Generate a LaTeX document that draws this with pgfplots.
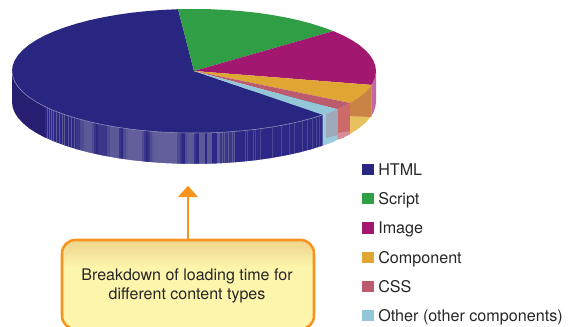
\documentclass[border=0pt]{standalone}
\usepackage{fontspec}
\setmainfont{TeX Gyre Heros}
\usepackage{pgfplots}
\pgfplotsset{compat=1.18}
\definecolor{cHtml}{RGB}{41,38,130}
\definecolor{cScript}{RGB}{48,158,68}
\definecolor{cImage}{RGB}{162,23,111}
\definecolor{cComp}{RGB}{223,166,52}
\definecolor{cCss}{RGB}{188,90,110}
\definecolor{cOther}{RGB}{147,198,214}
\definecolor{wDark}{RGB}{38,30,112}
\definecolor{wBase}{RGB}{45,40,133}
\definecolor{wLow}{RGB}{58,55,137}
\definecolor{wMid}{RGB}{78,76,144}
\definecolor{wHi}{RGB}{92,89,152}
\definecolor{wTop}{RGB}{98,95,156}
\definecolor{wFaint}{RGB}{74,72,146}
\definecolor{cOrange}{RGB}{247,148,29}
% one wall band, its overhang is hidden by the top face and the white mask
\newcommand{\strip}[3]{\addplot[fill=#3, draw=none] coordinates {(#1,100) (#2,100) (#2,172) (#1,172)} -- cycle;}
\newcommand{\wline}[1]{\addplot[color=wHi, line width=0.6pt] coordinates {(#1,100) (#1,172)};}
\newcommand{\fline}[1]{\addplot[color=wFaint, line width=0.5pt] coordinates {(#1,100) (#1,172)};}
\newcommand{\legitem}[3]{%
  \addplot[fill=#3, draw=none] coordinates {(362,#1-5.8) (373.7,#1-5.8) (373.7,#1+5.8) (362,#1+5.8)} -- cycle;
  \node[anchor=base west, inner sep=0pt, font=\fontsize{12.1pt}{14pt}\selectfont, text=black!85] at (axis cs:378,#1+5.9) {#2};}
\begin{document}
\begin{tikzpicture}
\useasboundingbox (0,0) rectangle (432pt,244.5pt);
\begin{axis}[
  at={(0,0)}, anchor=south west,
  scale only axis, width=432pt, height=244.5pt,
  xmin=0, xmax=576, ymin=0, ymax=326,
  y dir=reverse,
  hide axis,
  clip=true,
]
% side wall of the HTML slice
\addplot[fill=wDark, draw=none] coordinates {
  (12,71) (12,102) (12.7,107.4) (14.8,112.8) (18.2,118.0) (23.0,123.2) (29.0,128.2)
  (36.4,133.0) (44.9,137.6) (54.6,141.9) (65.3,145.8) (77.0,149.5) (89.6,152.8)
  (103.0,155.7) (117.1,158.2) (131.8,160.3) (146.9,161.9) (162.4,163.1) (178.1,163.8)
  (194,164) (209.9,163.8) (225.6,163.1) (241.1,161.9) (256.2,160.3) (270.9,158.2)
  (285.0,155.7) (298.4,152.8) (311.0,149.5) (322.7,145.8) (322.7,100) (100,71)} -- cycle;
\strip{45}{76}{wBase}
\wline{47}\wline{49}\wline{51}\wline{53}\wline{56}\wline{59}\wline{62}\wline{64}\wline{68}\wline{71}\wline{74}
\strip{76}{80}{wLow}
\strip{80}{84}{wMid}
\strip{84}{92}{wHi}
\strip{92}{94}{wMid}
\strip{94}{95.5}{wLow}
\strip{95.5}{98}{wBase}
\strip{98}{107}{wLow}
\strip{107}{110}{wMid}
\strip{110}{119}{wHi}
\strip{119}{121}{wLow}
\strip{121}{123}{wBase}
\strip{123}{126}{wMid}
\strip{126}{128}{wHi}
\strip{128}{142}{wTop}
\strip{142}{144}{wMid}
\strip{144}{146}{wLow}
\strip{146}{148}{wBase}
\strip{148}{150}{wLow}
\strip{150}{152}{wMid}
\strip{152}{154}{wHi}
\strip{154}{177}{wTop}
\strip{177}{180}{wMid}
\strip{180}{182}{wLow}
\strip{182}{185}{wBase}
\strip{185}{187}{wMid}
\strip{187}{194}{wHi}
\strip{194}{196}{wLow}
\strip{196}{199}{wBase}
\strip{199}{205}{wHi}
\strip{205}{207}{wBase}
\strip{207}{212}{wHi}
\strip{212}{217}{wBase}
\strip{217}{220}{wHi}
\strip{220}{235}{wLow}
\strip{235}{322.7}{wBase}
\wline{222}\wline{224}\wline{228}\wline{232}\wline{234}
\fline{245}\fline{247}\fline{253}\fline{255}
\fline{260}\fline{272}\fline{281}\fline{289}\fline{294}\fline{302}\fline{307}\fline{312}\fline{316}\fline{319}
% white below the wall
\addplot[fill=white, draw=none] coordinates {
  (44.9,137.6) (54.6,141.9) (65.3,145.8) (77.0,149.5) (89.6,152.8) (103.0,155.7)
  (117.1,158.2) (131.8,160.3) (146.9,161.9) (162.4,163.1) (178.1,163.8) (194,164)
  (209.9,163.8) (225.6,163.1) (241.1,161.9) (256.2,160.3) (270.9,158.2) (285.0,155.7)
  (298.4,152.8) (311.0,149.5) (322.7,145.8) (323.2,145.8) (323.2,175) (44.9,175)} -- cycle;
% translucent walls on the right
\addplot[fill={rgb,255:red,154;green,203;blue,220}, draw=none] coordinates {
  (322.7,114.8) (333.4,110.9) (337.5,109.3) (337.5,139.6) (333.4,141.9) (322.7,145.8)} -- cycle;
\addplot[fill={rgb,255:red,160;green,168;blue,188}, draw=none] coordinates {
  (326,113.6) (333.4,110.9) (337.5,109.3) (337.5,135) (326,138)} -- cycle;
\addplot[fill={rgb,255:red,204;green,106;blue,106}, draw=none] coordinates {
  (337.5,109.3) (343.1,106.6) (350,103) (350,134) (343.1,137.6) (337.5,139.6)} -- cycle;
\addplot[fill={rgb,255:red,216;green,138;blue,152}, draw=none] coordinates {
  (337.5,133) (350,131) (350,134) (343.1,137.6) (337.5,139.6)} -- cycle;
\addplot[fill={rgb,255:red,232;green,192;blue,96}, draw=none] coordinates {
  (350,103) (351.6,102.0) (359.0,97.2) (365.0,92.2) (369.8,87.0) (371.3,84.9)
  (371.3,115.9) (369.8,118.0) (365.0,123.2) (359.0,128.2) (351.6,133.0) (350,134)} -- cycle;
\addplot[fill={rgb,255:red,201;green,132;blue,69}, draw=none] coordinates {
  (350,103) (351.6,102.0) (359.0,97.2) (365.0,92.2) (369.8,87.0) (371.3,84.9)
  (371.3,117) (350,116)} -- cycle;
\addplot[fill={rgb,255:red,196;green,101;blue,165}, draw=none] coordinates {
  (371.3,84.9) (373.2,81.8) (375.3,76.4) (376,71) (376,102) (375.3,107.4) (373.2,112.8) (371.3,115.9)} -- cycle;
% top faces
\addplot[fill=cHtml, draw=none] coordinates {
  (194,71) (322.7,114.8) (311.0,118.5) (298.4,121.8) (285.0,124.7) (270.9,127.2) (256.2,129.3)
  (241.1,130.9) (225.6,132.1) (209.9,132.8) (194,133) (178.1,132.8) (162.4,132.1) (146.9,130.9)
  (131.8,129.3) (117.1,127.2) (103.0,124.7) (89.6,121.8) (77.0,118.5) (65.3,114.8) (54.6,110.9)
  (44.9,106.6) (36.4,102.0) (29.0,97.2) (23.0,92.2) (18.2,87.0) (14.8,81.8) (12.7,76.4) (12,71)
  (12.7,65.6) (14.8,60.2) (18.2,55.0) (23.0,49.8) (29.0,44.8) (36.4,40.0) (44.9,35.4) (54.6,31.1)
  (65.3,27.2) (77.0,23.5) (89.6,20.2) (103.0,17.3) (117.1,14.8) (131.8,12.7) (146.9,11.1)
  (162.4,9.9) (178.1,9.2)} -- cycle;
\addplot[fill=cScript, draw=none] coordinates {
  (194,71) (178.1,9.2) (194,9) (209.9,9.2) (225.6,9.9) (241.1,11.1) (256.2,12.7) (270.9,14.8)
  (285.0,17.3) (298.4,20.2) (311.0,23.5) (322.7,27.2) (333.4,31.1)} -- cycle;
\addplot[fill=cImage, draw=none] coordinates {
  (194,71) (333.4,31.1) (343.1,35.4) (351.6,40.0) (359.0,44.8) (365.0,49.8) (369.8,55.0)
  (373.2,60.2) (375.3,65.6) (376,71) (375.3,76.4) (373.2,81.8) (371.3,84.9)} -- cycle;
\addplot[fill=cComp, draw=none] coordinates {
  (194,71) (371.3,84.9) (369.8,87.0) (365.0,92.2) (359.0,97.2) (351.6,102.0) (350,103)} -- cycle;
\addplot[fill=cCss, draw=none] coordinates {
  (194,71) (350,103) (343.1,106.6) (337.5,109.3)} -- cycle;
\addplot[fill=cOther, draw=none] coordinates {
  (194,71) (337.5,109.3) (333.4,110.9) (322.7,114.8)} -- cycle;
% pale rim along the front of the HTML slice
\addplot[color={rgb,255:red,150;green,150;blue,190}, line width=0.4pt] coordinates {
  (12,71) (12.7,76.4) (14.8,81.8) (18.2,87.0) (23.0,92.2) (29.0,97.2) (36.4,102.0) (44.9,106.6)
  (54.6,110.9) (65.3,114.8) (77.0,118.5) (89.6,121.8) (103.0,124.7) (117.1,127.2) (131.8,129.3)
  (146.9,130.9) (162.4,132.1) (178.1,132.8) (194,133) (209.9,132.8) (225.6,132.1) (241.1,130.9)
  (256.2,129.3) (270.9,127.2) (285.0,124.7) (298.4,121.8) (311.0,118.5) (322.7,114.8)};
% legend
\legitem{169.6}{HTML}{cHtml}
\legitem{198.6}{Script}{cScript}
\legitem{227.7}{Image}{cImage}
\legitem{257.6}{Component}{cComp}
\legitem{286.6}{CSS}{cCss}
\legitem{315.6}{Other (other components)}{cOther}
% callout
\draw[cOrange, line width=1.7pt] (axis cs:188,196) -- (axis cs:188,240);
\fill[cOrange] (axis cs:178,197) -- (axis cs:188,185.7) -- (axis cs:198,197) -- cycle;
\fill[rounded corners=10pt, fill={rgb,255:red,254;green,245;blue,172}]
  (axis cs:62,240) rectangle (axis cs:314,329);
\shade[top color={rgb,255:red,238;green,212;blue,140}, bottom color={rgb,255:red,254;green,245;blue,172}]
  [rounded corners=10pt] (axis cs:62,268) -- (axis cs:62,240) -- (axis cs:314,240)
  [sharp corners] -- (axis cs:314,268) -- cycle;
\draw[cOrange, line width=1.9pt, rounded corners=10pt]
  (axis cs:62,240) rectangle (axis cs:314,329);
\node[align=center, inner sep=0pt, font=\fontsize{12pt}{14.2pt}\selectfont, text=black!85]
  at (axis cs:187,285.5) {Breakdown of loading time for\\different content types};
\end{axis}
\end{tikzpicture}
\end{document}
